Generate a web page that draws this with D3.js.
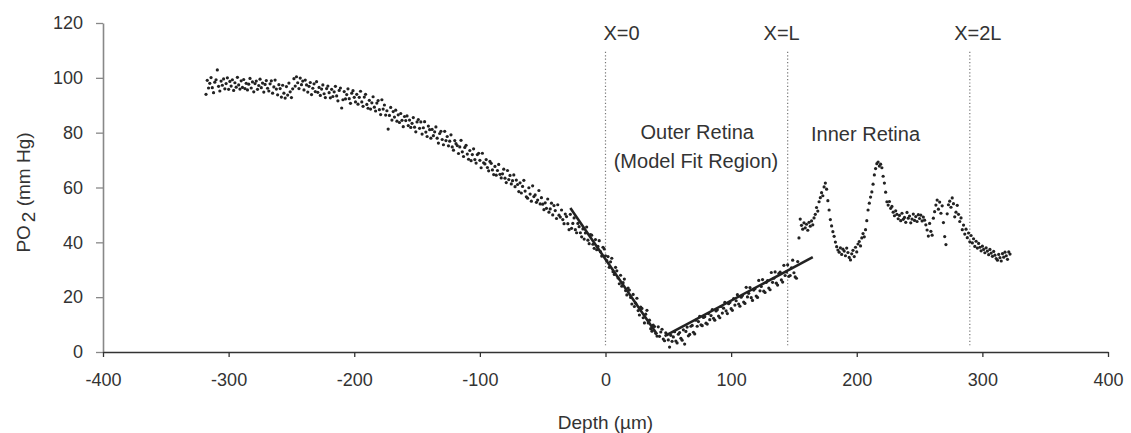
<!DOCTYPE html>
<html><head><meta charset="utf-8">
<script src="https://cdn.jsdelivr.net/npm/d3@7"></script>
<style>
body{margin:0;background:#fff;}
text{font-family:"Liberation Sans",Arial,sans-serif;fill:#333;}
</style></head>
<body><svg id="chart" width="1131" height="433"></svg>
<script>
// ---- data ----
const depthStart = -318; // µm, first sample; one sample per µm
const po2 = [
94.0,99.1,96.3,98.0,100.1,96.4,94.6,98.4,99.3,102.9,
96.9,95.2,98.8,97.3,99.6,96.0,97.9,100.0,95.8,98.7,
97.0,99.3,95.4,98.2,96.6,100.2,97.4,95.9,98.9,96.5,
99.4,96.1,98.0,95.6,97.7,99.8,96.3,98.5,94.9,97.9,
98.8,95.8,97.2,99.5,96.4,98.1,94.8,97.6,99.0,96.2,
95.2,97.8,98.9,94.4,96.7,99.2,95.9,93.8,97.5,96.1,
93.0,97.3,94.4,92.6,96.8,93.7,98.1,94.9,92.8,96.0,
99.7,97.0,100.4,98.2,96.1,99.9,97.5,98.8,95.6,99.2,
97.4,94.8,96.9,98.3,93.9,96.2,97.8,95.0,98.6,94.7,
96.5,93.6,95.9,97.4,94.2,92.8,96.1,97.0,94.6,92.7,
95.8,93.2,94.9,96.9,93.4,91.6,95.4,96.3,89.0,92.0,
95.0,92.3,93.9,96.0,92.4,90.7,94.4,95.3,92.9,91.2,
94.0,90.4,92.9,95.1,91.2,89.6,93.0,94.0,90.3,88.9,
91.8,88.6,90.9,93.1,89.3,87.9,90.8,91.7,88.4,86.6,
92.0,88.6,90.1,86.4,88.0,81.3,86.3,89.2,84.6,87.7,
85.7,88.2,84.2,86.5,83.7,87.0,84.5,82.2,85.9,84.4,
86.1,82.6,84.6,81.9,83.4,85.5,82.0,80.3,83.9,84.8,
81.6,83.9,79.5,81.8,84.0,80.2,78.6,82.4,81.1,78.0,
81.2,78.9,80.3,82.1,78.0,76.2,79.7,80.5,77.5,75.6,
80.5,77.1,78.6,75.2,76.9,79.2,74.8,73.6,77.1,76.0,
75.3,72.4,74.8,77.2,73.0,71.3,74.6,75.4,72.2,70.3,
73.5,69.8,72.0,74.1,70.2,68.9,72.0,72.5,69.9,67.2,
72.5,69.0,68.6,70.2,67.3,66.1,69.5,68.8,66.4,64.7,
67.7,64.5,66.2,68.4,64.8,63.5,65.0,66.7,63.4,61.8,
66.2,62.9,64.4,61.3,62.5,64.6,60.3,62.7,61.1,58.5,
61.7,58.0,60.4,62.6,58.7,56.6,56.1,59.9,57.6,55.0,
60.6,56.7,57.3,54.6,55.4,58.9,54.0,56.3,53.9,51.9,
54.4,52.4,55.8,51.0,52.2,54.3,50.0,53.4,51.6,48.7,
53.7,49.9,49.2,51.8,48.3,46.8,50.3,49.4,46.8,44.6,
50.2,45.1,46.9,48.9,44.6,43.5,46.9,45.7,43.5,42.0,
44.9,41.2,43.4,45.6,40.8,39.5,42.8,42.6,39.3,37.8,
41.0,37.3,38.5,40.6,36.6,35.0,38.2,37.6,35.1,33.3,
34.8,30.9,32.9,34.2,29.3,28.3,30.9,29.6,27.0,24.9,
28.0,24.0,25.3,26.6,22.4,20.8,23.3,22.6,19.9,17.5,
21.0,16.6,17.8,19.6,15.1,13.5,16.4,15.9,12.5,10.6,
13.8,15.2,10.6,11.6,8.5,7.6,9.8,9.3,6.8,5.8,
9.2,5.7,7.3,8.3,4.7,4.1,7.0,6.3,4.4,1.8,
6.1,3.9,5.5,7.4,4.0,3.3,6.5,7.1,5.0,4.3,
8.1,2.9,7.5,9.1,5.9,6.4,9.4,9.7,7.2,6.6,
11.6,9.4,11.1,13.0,9.9,9.6,12.6,12.9,10.5,10.2,
14.0,11.8,13.3,15.5,12.3,11.6,15.0,15.4,13.1,12.5,
16.6,14.2,16.0,18.1,15.0,14.0,17.6,18.1,15.8,15.2,
19.5,17.1,18.7,20.9,17.5,16.7,20.0,20.6,18.2,17.7,
23.6,20.1,21.4,23.5,19.8,18.8,22.6,23.1,20.4,19.9,
26.1,22.3,23.9,26.4,22.2,21.7,25.4,26.0,23.3,22.7,
29.0,25.4,26.9,29.2,25.1,24.4,28.6,29.1,26.3,25.5,
31.6,27.9,29.2,31.8,27.6,27.9,30.7,33.5,28.9,27.4,
26.9,33.0,41.6,48.5,46.2,44.8,47.1,45.3,46.6,44.4,
47.3,45.9,47.8,46.4,48.9,50.2,52.7,51.4,54.8,56.3,
58.1,57.0,60.2,61.6,59.4,55.2,51.8,48.3,46.0,43.9,
42.2,40.1,38.4,37.2,36.4,38.0,35.6,37.5,36.8,35.1,
37.9,36.3,34.5,33.6,35.8,37.1,34.8,38.2,36.5,39.4,
40.3,38.7,41.6,43.2,42.0,44.6,47.9,51.8,54.3,56.5,
58.4,61.2,64.6,66.9,68.7,69.3,67.8,68.5,67.2,64.1,
61.6,58.3,54.8,53.6,54.9,52.4,53.1,51.0,49.7,51.5,
50.2,48.6,49.8,47.9,50.6,48.4,49.1,47.3,50.9,48.8,
49.6,47.1,48.5,50.3,48.0,49.4,47.6,50.1,48.7,49.9,
47.8,49.2,48.1,46.4,44.5,42.3,46.9,44.0,42.6,48.8,
51.2,53.6,55.4,52.1,54.7,50.6,53.3,47.2,42.1,39.2,
50.4,53.7,55.0,52.8,56.2,54.1,49.3,51.0,53.5,50.2,
47.6,48.9,44.6,46.3,43.0,44.8,41.7,43.4,40.2,42.5,
39.8,41.3,38.5,40.4,37.9,39.6,38.2,36.9,38.6,37.4,
36.2,38.0,36.8,35.5,37.4,36.1,34.9,36.7,35.3,34.1,
33.5,35.6,34.4,33.2,35.9,34.6,36.4,35.1,33.8,36.5,
35.7
];
// model fit lines: [depth, PO2] endpoints
const fitInner = [[-28, 52.5], [41, 6.5]];
const fitOuter = [[47, 5.8], [165, 34.6]];
// boundary markers
const markerDepths = [0, 145, 290];
const markerLabels = ["X=0", "X=L", "X=2L"];
const xTicks = [-400, -300, -200, -100, 0, 100, 200, 300, 400];
const yTicks = [0, 20, 40, 60, 80, 100, 120];

// ---- layout ----
const svg = d3.select("#chart");
const m = {left: 103, right: 23, top: 23, bottom: 81};
const W = 1131, H = 433;
const x = d3.scaleLinear().domain([-400, 400]).range([m.left, W - m.right]);
const y = d3.scaleLinear().domain([0, 120]).range([H - m.bottom, m.top]);
const fmt = d => String(d);

// y axis
const gy = svg.append("g").attr("transform", `translate(${m.left},0)`)
  .call(d3.axisLeft(y).tickValues(yTicks).tickFormat(fmt).tickSize(7).tickPadding(13).tickSizeOuter(0));
gy.select(".domain").attr("stroke", "#888").attr("stroke-width", 1.6);
gy.selectAll(".tick line").attr("stroke", "#888").attr("stroke-width", 1.3);
gy.selectAll(".tick text").attr("font-size", 18).attr("fill", "#333")
  .style("font-family", "Liberation Sans, Arial, sans-serif");

// x axis
const gx = svg.append("g").attr("transform", `translate(0,${y(0)})`)
  .call(d3.axisBottom(x).tickValues(xTicks).tickFormat(fmt).tickSize(5).tickPadding(16).tickSizeOuter(0));
gx.select(".domain").attr("stroke", "#333").attr("stroke-width", 1.6);
gx.selectAll(".tick line").attr("stroke", "#333").attr("stroke-width", 1.3);
gx.selectAll(".tick text").attr("font-size", 18).attr("fill", "#333")
  .style("font-family", "Liberation Sans, Arial, sans-serif");

// dotted boundary lines
svg.append("g").selectAll("line").data(markerDepths).join("line")
  .attr("x1", d => x(d)).attr("x2", d => x(d))
  .attr("y1", y(109.5)).attr("y2", y(2.5))
  .attr("stroke", "#777").attr("stroke-width", 1.2).attr("stroke-dasharray", "1.2,2.2");

// marker labels
const labelOffsets = [16, -6, 8];
svg.append("g").selectAll("text").data(markerLabels).join("text")
  .attr("x", (d, i) => x(markerDepths[i]) + labelOffsets[i])
  .attr("y", 40).attr("text-anchor", "middle").attr("font-size", 20).text(d => d);

// region labels
svg.append("text").attr("x", x(73)).attr("y", y(77.6)).attr("text-anchor", "middle")
  .attr("font-size", 20).text("Outer Retina");
svg.append("text").attr("x", x(72)).attr("y", y(67)).attr("text-anchor", "middle")
  .attr("font-size", 20).text("(Model Fit Region)");
svg.append("text").attr("x", x(207)).attr("y", y(77)).attr("text-anchor", "middle")
  .attr("font-size", 20).text("Inner Retina");

// scatter
const pts = po2.map((v, i) => [depthStart + i, v]);
svg.append("g").selectAll("circle").data(pts).join("circle")
  .attr("cx", d => x(d[0])).attr("cy", d => y(d[1])).attr("r", 1.6).attr("fill", "#222");

// fit lines
const line = d3.line().x(d => x(d[0])).y(d => y(d[1]));
[fitInner, fitOuter].forEach(f => svg.append("path").attr("d", line(f))
  .attr("fill", "none").attr("stroke", "#222").attr("stroke-width", 2.6));

// axis titles
svg.append("text").attr("x", x(0)).attr("y", 429).attr("text-anchor", "middle")
  .attr("font-size", 19).text("Depth (µm)");
const yt = svg.append("text").attr("transform", `translate(30,${y(60) + 5}) rotate(-90)`)
  .attr("text-anchor", "middle").attr("font-size", 19);
yt.append("tspan").text("PO");
yt.append("tspan").attr("dy", 5).attr("dx", 3).text("2");
yt.append("tspan").attr("dy", -5).text(" (mm Hg)");
</script></body></html>
